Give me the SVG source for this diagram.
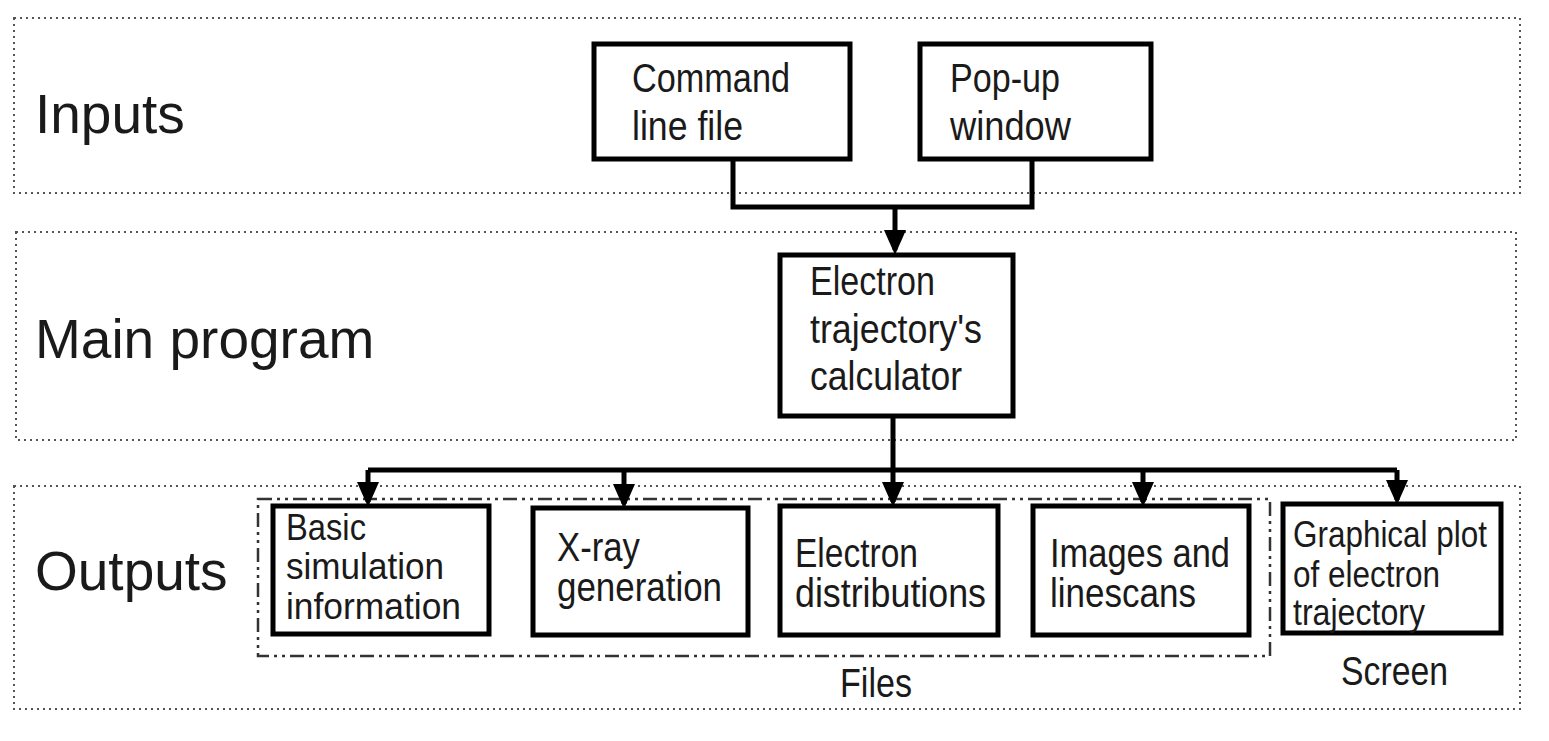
<svg xmlns="http://www.w3.org/2000/svg" width="1549" height="741" viewBox="0 0 1549 741">
<style>
.band{fill:none;stroke:#555;stroke-width:2;stroke-dasharray:2 4}
.files{fill:none;stroke:#333;stroke-width:2.5;stroke-dasharray:14 5 3 5 3 5}
.box{fill:#fff;stroke:#000;stroke-width:5}
.lbl{font-family:"Liberation Sans",Arial,sans-serif;font-size:55px;fill:#1a1a1a}
.t{font-family:"Liberation Sans",Arial,sans-serif;font-size:40px;fill:#1a1a1a}
.s{font-size:36px}
.w{fill:none;stroke:#000;stroke-width:5}
</style>
<defs>
<marker id="ah" markerWidth="5" markerHeight="5" refX="4" refY="2.5" orient="auto" markerUnits="strokeWidth">
<path d="M0,0.3 L5,2.5 L0,4.7 z" fill="#000"/>
</marker>
</defs>
<g id="bands">
<rect class="band" x="14" y="18" width="1506" height="175"/>
<rect class="band" x="16" y="232" width="1500" height="208"/>
<rect class="band" x="14" y="486" width="1506" height="223"/>
<rect class="files" x="258" y="499" width="1012" height="157"/>
</g>
<g id="labels">
<text class="lbl" x="35" y="133">Inputs</text>
<text class="lbl" x="35" y="358">Main program</text>
<text class="lbl" x="35" y="590">Outputs</text>
<text class="t" x="840" y="697" textLength="72" lengthAdjust="spacingAndGlyphs">Files</text>
<text class="t" x="1341" y="685" textLength="107" lengthAdjust="spacingAndGlyphs">Screen</text>
</g>
<g id="connectors">
<path class="w" d="M733,160 V207 H1032 V160"/>
<path class="w" d="M895,207 V250" marker-end="url(#ah)"/>
<path class="w" d="M893,417 V470"/>
<path class="w" d="M368,470 H1397"/>
<path class="w" d="M368,470 V502" marker-end="url(#ah)"/>
<path class="w" d="M624,470 V504" marker-end="url(#ah)"/>
<path class="w" d="M893,470 V502" marker-end="url(#ah)"/>
<path class="w" d="M1143,470 V502" marker-end="url(#ah)"/>
<path class="w" d="M1397,470 V500" marker-end="url(#ah)"/>
</g>
<g id="cmd">
<rect class="box" x="594" y="44" width="256" height="115"/>
<text class="t" x="632" y="92" textLength="158" lengthAdjust="spacingAndGlyphs">Command</text>
<text class="t" x="632" y="140" textLength="111" lengthAdjust="spacingAndGlyphs">line file</text>
</g>
<g id="popup">
<rect class="box" x="920" y="44" width="231" height="115"/>
<text class="t" x="950" y="92" textLength="110" lengthAdjust="spacingAndGlyphs">Pop-up</text>
<text class="t" x="950" y="140" textLength="121" lengthAdjust="spacingAndGlyphs">window</text>
</g>
<g id="calc">
<rect class="box" x="780" y="255" width="233" height="161"/>
<text class="t" x="810" y="295" textLength="125" lengthAdjust="spacingAndGlyphs">Electron</text>
<text class="t" x="810" y="343" textLength="172" lengthAdjust="spacingAndGlyphs">trajectory's</text>
<text class="t" x="810" y="390" textLength="152" lengthAdjust="spacingAndGlyphs">calculator</text>
</g>
<g id="basic">
<rect class="box" x="273" y="506" width="216" height="128"/>
<text class="t s" x="286" y="540" textLength="80" lengthAdjust="spacingAndGlyphs">Basic</text>
<text class="t s" x="286" y="579" textLength="158" lengthAdjust="spacingAndGlyphs">simulation</text>
<text class="t s" x="286" y="619" textLength="175" lengthAdjust="spacingAndGlyphs">information</text>
</g>
<g id="xray">
<rect class="box" x="533" y="508" width="215" height="127"/>
<text class="t" x="557" y="561" textLength="83" lengthAdjust="spacingAndGlyphs">X-ray</text>
<text class="t" x="557" y="601" textLength="165" lengthAdjust="spacingAndGlyphs">generation</text>
</g>
<g id="edist">
<rect class="box" x="780" y="506" width="218" height="129"/>
<text class="t" x="795" y="567" textLength="123" lengthAdjust="spacingAndGlyphs">Electron</text>
<text class="t" x="795" y="607" textLength="191" lengthAdjust="spacingAndGlyphs">distributions</text>
</g>
<g id="images">
<rect class="box" x="1033" y="506" width="216" height="129"/>
<text class="t" x="1050" y="567" textLength="180" lengthAdjust="spacingAndGlyphs">Images and</text>
<text class="t" x="1050" y="607" textLength="146" lengthAdjust="spacingAndGlyphs">linescans</text>
</g>
<g id="graph">
<rect class="box" x="1283" y="504" width="218" height="129"/>
<text class="t s" x="1293" y="547" textLength="194" lengthAdjust="spacingAndGlyphs">Graphical plot</text>
<text class="t s" x="1293" y="587" textLength="147" lengthAdjust="spacingAndGlyphs">of electron</text>
<text class="t s" x="1293" y="625" textLength="132" lengthAdjust="spacingAndGlyphs">trajectory</text>
</g>
</svg>
